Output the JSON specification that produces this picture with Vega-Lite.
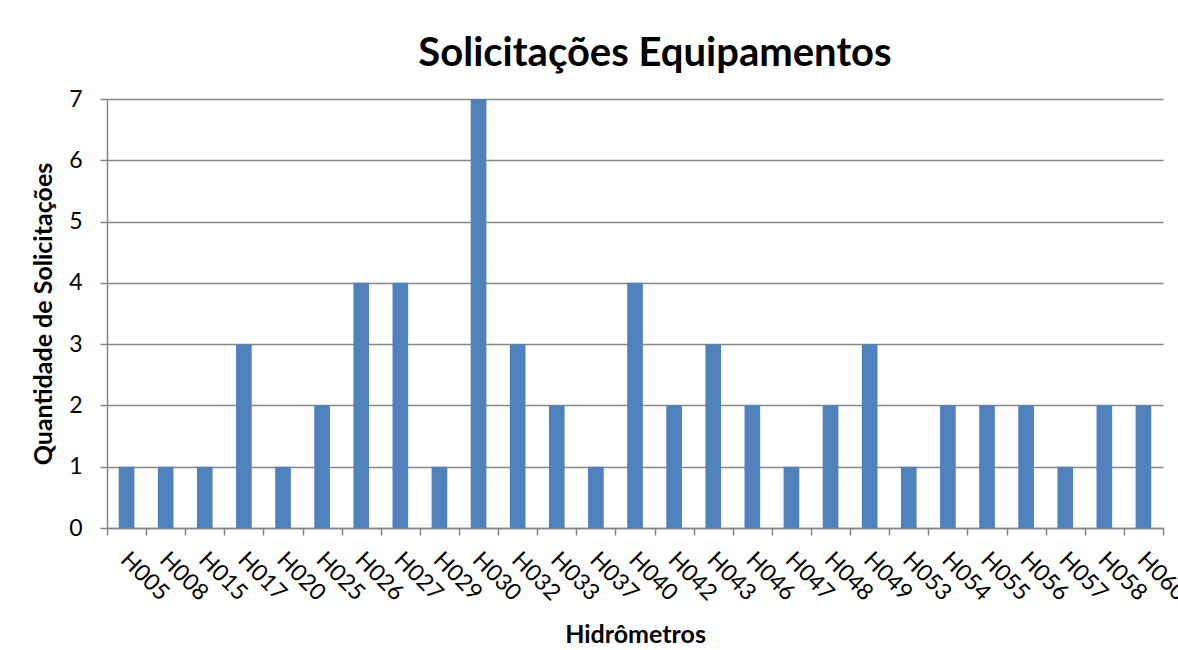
{
  "$schema": "https://vega.github.io/schema/vega-lite/v6.json",
  "width": 1056,
  "height": 429,
  "autosize": {"type": "none"},
  "padding": {"left": 107, "top": 99, "right": 15, "bottom": 122},
  "background": "white",
  "title": {
    "text": "Solicitações Equipamentos",
    "font": "Lato",
    "fontSize": 40,
    "fontWeight": "bold",
    "color": "#000000",
    "anchor": "middle",
    "dx": 20,
    "offset": 14
  },
  "data": {
    "values": [
      {"h": "H005", "q": 1}, {"h": "H008", "q": 1}, {"h": "H015", "q": 1},
      {"h": "H017", "q": 3}, {"h": "H020", "q": 1}, {"h": "H025", "q": 2},
      {"h": "H026", "q": 4}, {"h": "H027", "q": 4}, {"h": "H029", "q": 1},
      {"h": "H030", "q": 7}, {"h": "H032", "q": 3}, {"h": "H033", "q": 2},
      {"h": "H037", "q": 1}, {"h": "H040", "q": 4}, {"h": "H042", "q": 2},
      {"h": "H043", "q": 3}, {"h": "H046", "q": 2}, {"h": "H047", "q": 1},
      {"h": "H048", "q": 2}, {"h": "H049", "q": 3}, {"h": "H053", "q": 1},
      {"h": "H054", "q": 2}, {"h": "H055", "q": 2}, {"h": "H056", "q": 2},
      {"h": "H057", "q": 1}, {"h": "H058", "q": 2}, {"h": "H060", "q": 2}
    ]
  },
  "mark": {"type": "bar", "color": "#4F81BD", "width": {"band": 0.4}},
  "encoding": {
    "x": {
      "field": "h",
      "type": "nominal",
      "sort": null,
      "scale": {"paddingInner": 0, "paddingOuter": 0},
      "axis": {
        "title": "Hidrômetros",
        "titleFont": "Lato",
        "titleFontSize": 25,
        "titleFontWeight": "bold",
        "titleColor": "#000000",
        "titlePadding": 18,
        "labelFont": "Lato",
        "labelFontSize": 23,
        "labelColor": "#000000",
        "labelAngle": 45,
        "labelAlign": "left",
        "labelBaseline": "top",
        "labelPadding": 13,
        "labelOffset": 5,
        "labelOverlap": false,
        "tickBand": "extent",
        "tickSize": 7,
        "tickColor": "#868686",
        "tickWidth": 1.5,
        "domainColor": "#868686",
        "domainWidth": 1.5,
        "grid": false
      }
    },
    "y": {
      "field": "q",
      "type": "quantitative",
      "scale": {"domain": [0, 7], "nice": false},
      "axis": {
        "title": "Quantidade de Solicitações",
        "titleFont": "Lato",
        "titleFontSize": 25,
        "titleFontWeight": "bold",
        "titleColor": "#000000",
        "titlePadding": 12,
        "values": [0, 1, 2, 3, 4, 5, 6, 7],
        "labelFont": "Lato",
        "labelFontSize": 23,
        "labelColor": "#000000",
        "labelPadding": 18,
        "tickSize": 7,
        "tickColor": "#868686",
        "tickWidth": 1.5,
        "domainColor": "#868686",
        "domainWidth": 1.5,
        "grid": true,
        "gridColor": "#868686",
        "gridWidth": 1.5
      }
    }
  },
  "config": {"view": {"stroke": null}}
}
